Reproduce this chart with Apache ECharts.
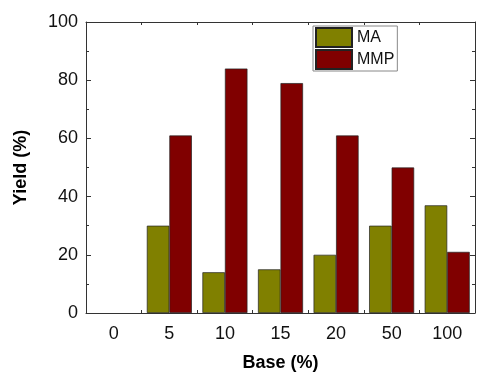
<!DOCTYPE html>
<html><head><meta charset="utf-8">
<script src="https://cdn.jsdelivr.net/npm/echarts@6/dist/echarts.min.js"></script>
<style>html,body{margin:0;padding:0;background:#fff}#c{width:478px;height:377px}</style>
</head><body><div id="c"></div>
<script>
var categories = ['0','5','10','15','20','50','100'];
var maValues = [null, 30, 14, 15, 20, 30, 37];
var mmpValues = [null, 61, 84, 79, 61, 50, 21];
var yTicks = [0, 20, 40, 60, 80, 100];

var font = 'Liberation Sans, Arial, sans-serif';
var chart = echarts.init(document.getElementById('c'));
var lineStyle = {color: '#333', width: 1};
chart.setOption({
  animation: false,
  grid: {left: 86, right: 3, top: 22, bottom: 64},
  legend: {
    data: ['MA', 'MMP'],
    orient: 'vertical',
    left: 313, top: 26,
    itemWidth: 36, itemHeight: 19, itemGap: 1,
    padding: [1, 3, 1, 2],
    borderColor: '#888', borderWidth: 1,
    icon: 'rect',
    textStyle: {fontFamily: font, fontSize: 16, color: '#111'}
  },
  xAxis: [
    {type: 'category', data: categories, position: 'bottom',
     name: 'Base (%)', nameLocation: 'middle', nameGap: 41,
     nameTextStyle: {fontFamily: font, fontSize: 18, fontWeight: 'bold', color: '#000'},
     axisLine: {onZero: false, lineStyle: lineStyle},
     axisTick: {inside: true, alignWithLabel: true, length: 6, lineStyle: lineStyle},
     axisLabel: {fontFamily: font, fontSize: 18, color: '#111', margin: 12}},
    {type: 'category', data: categories, position: 'top',
     axisLine: {onZero: false, lineStyle: lineStyle},
     axisTick: {inside: true, alignWithLabel: true, length: 4, lineStyle: lineStyle},
     axisLabel: {show: false}},
    {type: 'value', min: 0, max: 7, interval: 1, position: 'bottom',
     axisLine: {show: false, onZero: false}, splitLine: {show: false},
     axisTick: {inside: true, length: 3, lineStyle: lineStyle},
     axisLabel: {show: false}},
    {type: 'value', min: 0, max: 7, interval: 1, position: 'top',
     axisLine: {show: false, onZero: false}, splitLine: {show: false},
     axisTick: {inside: true, length: 3, lineStyle: lineStyle},
     axisLabel: {show: false}}
  ],
  yAxis: [
    {type: 'value', min: yTicks[0], max: yTicks[yTicks.length-1], interval: 20, position: 'left',
     name: 'Yield (%)', nameLocation: 'middle', nameGap: 56,
     nameTextStyle: {fontFamily: font, fontSize: 18, fontWeight: 'bold', color: '#000'},
     axisLine: {show: true, onZero: false, lineStyle: lineStyle},
     axisTick: {show: true, inside: true, length: 5, lineStyle: lineStyle},
     minorTick: {show: true, splitNumber: 2, length: 3, lineStyle: {color: '#333'}},
     splitLine: {show: false},
     axisLabel: {fontFamily: font, fontSize: 18, color: '#111', margin: 8}},
    {type: 'value', min: 0, max: 100, interval: 20, position: 'right',
     axisLine: {show: true, onZero: false, lineStyle: lineStyle},
     axisTick: {show: true, inside: true, length: 5, lineStyle: lineStyle},
     minorTick: {show: true, splitNumber: 2, length: 3, lineStyle: {color: '#333'}},
     splitLine: {show: false},
     axisLabel: {show: false}}
  ],
  series: [
    {name: 'MA', type: 'bar', data: maValues, xAxisIndex: 0, yAxisIndex: 0,
     barGap: '0%', barCategoryGap: '19%',
     itemStyle: {color: '#808000', borderColor: '#222', borderWidth: 0.7}},
    {name: 'MMP', type: 'bar', data: mmpValues, xAxisIndex: 0, yAxisIndex: 0,
     barGap: '0%', barCategoryGap: '19%',
     itemStyle: {color: '#800000', borderColor: '#222', borderWidth: 0.7}}
  ]
});
</script></body></html>
